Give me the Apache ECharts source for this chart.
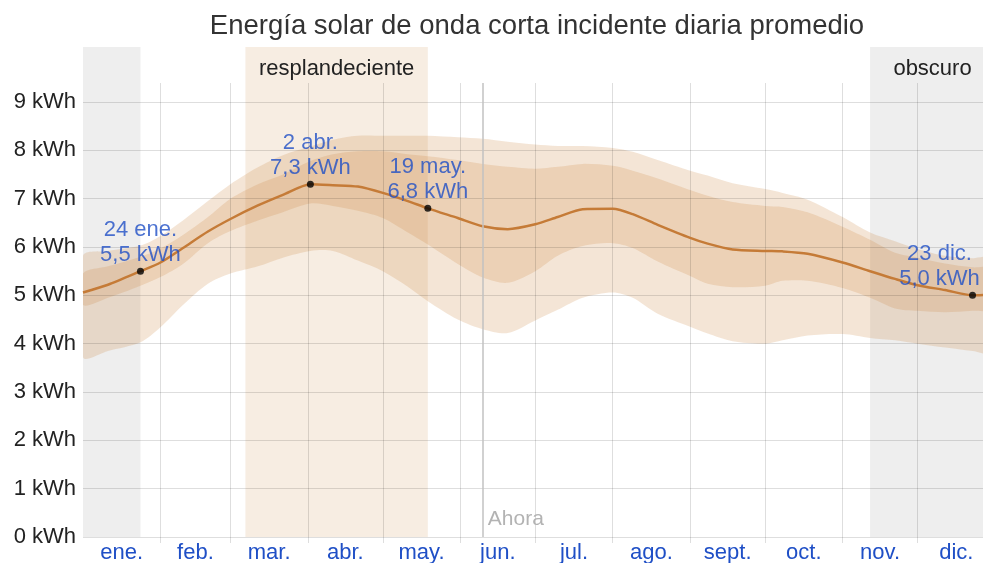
<!DOCTYPE html>
<html>
<head>
<meta charset="utf-8">
<script src="https://cdn.jsdelivr.net/npm/echarts@6/dist/echarts.min.js"></script>
<style>
  html, body { margin: 0; padding: 0; background: #fff; }
  #chart { width: 983px; height: 563px; }
</style>
</head>
<body>
<div id="chart"></div>
<script>
// Month labels and day-of-year boundaries
const monthNames = ['ene.', 'feb.', 'mar.', 'abr.', 'may.', 'jun.', 'jul.', 'ago.', 'sept.', 'oct.', 'nov.', 'dic.'];
const monthStarts = [0, 31, 59, 90, 120, 151, 181, 212, 243, 273, 304, 334, 365];
const yTicks = [0, 1, 2, 3, 4, 5, 6, 7, 8, 9];

// Daily incident shortwave solar energy (kWh), sampled by day of year
const days = [0, 10, 23, 31, 40, 50, 59, 70, 80, 91, 100, 110, 120, 130, 138, 150, 160, 170, 181, 190, 200, 212, 220, 230, 243, 250, 260, 273, 280, 290, 304, 315, 325, 334, 345, 356, 364];
const mean = [5.06, 5.22, 5.5, 5.68, 5.98, 6.32, 6.58, 6.86, 7.08, 7.3, 7.28, 7.25, 7.12, 6.95, 6.8, 6.6, 6.43, 6.37, 6.47, 6.62, 6.78, 6.79, 6.68, 6.46, 6.19, 6.07, 5.95, 5.92, 5.91, 5.86, 5.68, 5.5, 5.34, 5.21, 5.11, 5.0, 5.02];
const p90 = [5.82, 5.92, 6.03, 6.23, 6.55, 6.95, 7.3, 7.65, 7.9, 8.08, 8.22, 8.3, 8.3, 8.3, 8.3, 8.27, 8.24, 8.18, 8.12, 8.09, 8.09, 8.05, 7.97, 7.8, 7.58, 7.48, 7.32, 7.2, 7.12, 6.98, 6.62, 6.3, 6.12, 5.96, 5.82, 5.77, 5.76];
const p75 = [5.45, 5.6, 5.8, 5.97, 6.25, 6.62, 7.0, 7.3, 7.5, 7.78, 7.92, 7.98, 7.98, 7.92, 7.88, 7.8, 7.72, 7.66, 7.62, 7.66, 7.72, 7.68, 7.58, 7.42, 7.18, 7.06, 6.93, 6.85, 6.83, 6.72, 6.42, 6.15, 5.88, 5.78, 5.66, 5.58, 5.55];
const p25 = [4.8, 4.95, 5.2, 5.38, 5.65, 6.08, 6.33, 6.55, 6.72, 6.9, 6.85, 6.75, 6.6, 6.3, 6.05, 5.65, 5.37, 5.26, 5.5, 5.82, 6.02, 6.08, 5.98, 5.7, 5.4, 5.24, 5.17, 5.2, 5.3, 5.3, 5.15, 4.95, 4.73, 4.68, 4.65, 4.68, 4.72];
const p10 = [3.72, 3.85, 4.03, 4.34, 4.8, 5.24, 5.45, 5.6, 5.78, 5.92, 5.92, 5.72, 5.5, 5.18, 4.88, 4.5, 4.3, 4.22, 4.48, 4.7, 4.95, 5.06, 4.95, 4.62, 4.35, 4.21, 4.05, 4.0, 4.07, 4.17, 4.2, 4.12, 4.07, 4.0, 3.92, 3.85, 3.82];

// Highlighted days
const highlightDays = [23, 91, 138, 356];
const highlightDates = ['24 ene.', '2 abr.', '19 may.', '23 dic.'];

// Seasonal periods (day of year)
const brightPeriod = [65, 138];
const darkPeriods = [[0, 23], [315, 365]];
const brightLabel = 'resplandeciente';
const darkLabel = 'obscuro';
const nowDay = 160;
const nowLabel = 'Ahora';

const FONT = '"Liberation Sans", Arial, sans-serif';
const GRID_COLOR = 'rgba(0,0,0,0.13)';
const BLUE = '#1f4fc6';
const BAND_COLOR = 'rgba(205,138,70,0.22)';

const monthMids = monthNames.map((_, i) => (monthStarts[i] + monthStarts[i + 1]) / 2);
const monthLines = monthStarts.slice(1);
const pairs = (ys) => days.map((d, i) => [d, ys[i]]);
const fmtNum = (v) => v.toFixed(1).replace('.', ',');

// Filled percentile band between two series, drawn in axis coordinates
function bandSeries(name, lo, hi) {
  return {
    name, type: 'custom', xAxisIndex: 1, yAxisIndex: 1, silent: true, z: 1, clip: true,
    data: [0],
    renderItem: (params, api) => {
      const upper = days.map((d, i) => api.coord([d, hi[i]]));
      const lower = days.map((d, i) => api.coord([d, lo[i]])).reverse();
      return {
        type: 'polygon',
        shape: { points: upper.concat(lower), smooth: 0.3 },
        style: { fill: BAND_COLOR }
      };
    }
  };
}

const chart = echarts.init(document.getElementById('chart'), null, { renderer: 'canvas' });

chart.setOption({
  animation: false,
  textStyle: { fontFamily: FONT },
  title: {
    text: 'Energía solar de onda corta incidente diaria promedio',
    left: 532,
    top: 7,
    textAlign: 'center',
    textStyle: { fontFamily: FONT, fontSize: 27.5, fontWeight: 'normal', color: '#333' }
  },
  grid: [
    { left: 83, width: 912, top: 47, bottom: 26, outerBoundsMode: 'none', containLabel: false },
    { left: 83, width: 912, top: 83, bottom: 26, outerBoundsMode: 'none', containLabel: false }
  ],
  xAxis: [
    { gridIndex: 0, type: 'value', min: 0, max: 365, show: false },
    {
      gridIndex: 1, type: 'value', min: 0, max: 365, z: 2,
      axisLine: { show: false },
      axisTick: { show: true, customValues: monthLines, length: 6, lineStyle: { color: GRID_COLOR } },
      splitLine: { show: true, lineStyle: { color: GRID_COLOR } },
      axisLabel: {
        customValues: monthMids,
        formatter: (v) => monthNames[monthMids.indexOf(v)],
        color: BLUE, fontSize: 22, margin: 5, fontFamily: FONT
      }
    }
  ],
  yAxis: [
    { gridIndex: 0, type: 'value', min: 0, max: 490 / 48.33, show: false },
    {
      gridIndex: 1, type: 'value', min: 0, max: 454 / 48.33, z: 2,
      axisLine: { show: false },
      axisTick: { show: false, customValues: yTicks },
      splitLine: { show: true, lineStyle: { color: GRID_COLOR } },
      axisLabel: {
        customValues: yTicks,
        formatter: '{value} kWh',
        color: '#222', fontSize: 22, margin: 7, fontFamily: FONT
      }
    }
  ],
  series: [
    {
      name: 'periods', type: 'line', xAxisIndex: 0, yAxisIndex: 0, data: [], silent: true, z: -1,
      markArea: {
        silent: true,
        label: { show: true, position: 'insideTop', distance: 11, color: '#222', fontSize: 22, fontFamily: FONT },
        data: [
          [{ xAxis: darkPeriods[0][0], itemStyle: { color: '#eeeeee' }, label: { show: false } }, { xAxis: darkPeriods[0][1] }],
          [{ xAxis: brightPeriod[0], name: brightLabel, itemStyle: { color: '#f7ede2' } }, { xAxis: brightPeriod[1] }],
          [{ xAxis: darkPeriods[1][0], name: darkLabel, itemStyle: { color: '#eeeeee' } }, { xAxis: darkPeriods[1][1] }]
        ]
      }
    },
    bandSeries('p10-p90', p10, p90),
    bandSeries('p25-p75', p25, p75),
    {
      name: 'mean', type: 'line', xAxisIndex: 1, yAxisIndex: 1, smooth: 0.25,
      symbol: 'none', data: pairs(mean), silent: true, z: 3,
      lineStyle: { color: '#c57b37', width: 2.5 },
      markLine: {
        silent: true, symbol: 'none', label: { show: false },
        lineStyle: { color: '#c2c2c2', width: 1.5, type: 'solid' },
        data: [{ xAxis: nowDay }]
      },
      markPoint: {
        silent: true, symbol: 'circle', symbolSize: 0,
        label: {
          show: true, formatter: nowLabel, position: 'right', distance: 5, offset: [0, -18],
          color: '#b3b3b3', fontSize: 21, fontFamily: FONT
        },
        data: [{ coord: [nowDay, 0] }]
      }
    },
    {
      name: 'highlights', type: 'scatter', xAxisIndex: 1, yAxisIndex: 1, z: 4, silent: true,
      symbolSize: 7, itemStyle: { color: '#000' },
      label: {
        show: true, position: 'top', distance: 0,
        color: BLUE, fontSize: 22, lineHeight: 25, fontFamily: FONT, align: 'center',
        formatter: (p) => highlightDates[p.dataIndex] + '\n' + fmtNum(p.value[1]) + ' kWh'
      },
      data: highlightDays.map((d, i) => {
        const item = { value: [d, mean[days.indexOf(d)]] };
        if (i === highlightDays.length - 1) item.label = { offset: [-33, 0] };
        return item;
      })
    }
  ]
});
</script>
</body>
</html>
